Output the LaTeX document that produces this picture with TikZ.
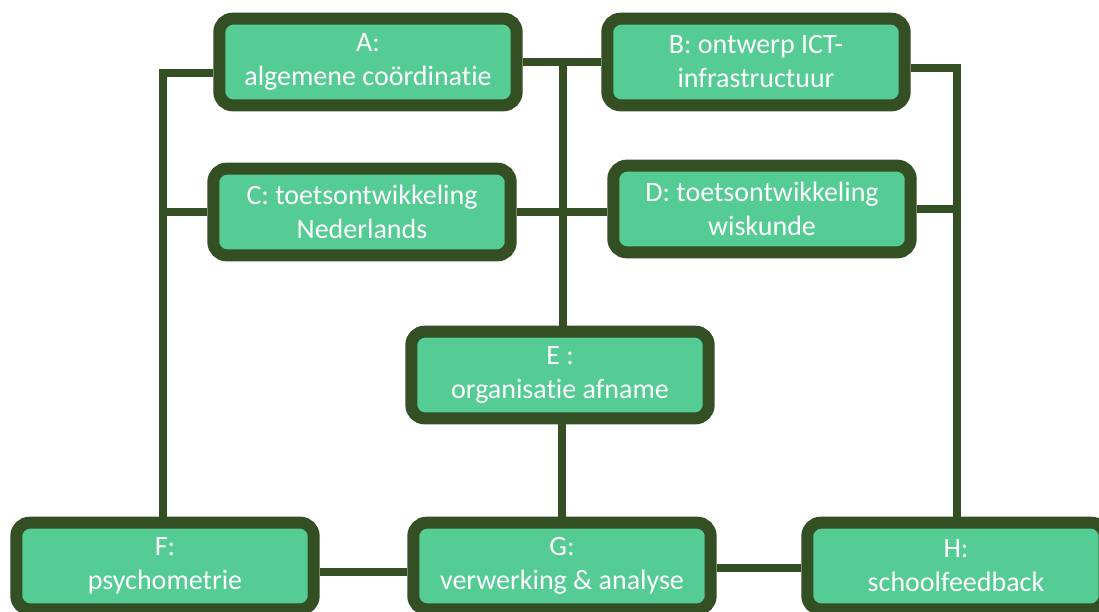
\documentclass[tikz,border=0pt]{standalone}
\usepackage{fontspec}
\setmainfont{Carlito}[Ligatures=NoCommon]
\usetikzlibrary{positioning,calc}
\definecolor{boxgreen}{RGB}{84,204,148}
\definecolor{darkgreen}{RGB}{51,79,35}

\begin{document}
\begin{tikzpicture}[x=0.75pt, y=-0.75pt,
    unit/.style={draw=darkgreen, line width=9pt, fill=boxgreen, rounded corners=10pt, minimum width=223pt, minimum height=65pt, align=center, text=white, font=\fontsize{21}{25.5}\selectfont},
    link/.style={draw=darkgreen, line width=6pt}
]
\clip (0,0) rectangle (1099,611);
\useasboundingbox (0,0) rectangle (1099,611);

% Top rows
\node[unit] (A) at (368,62) {A:\\algemene coördinatie};
\node[unit] (B) at (756,62) {B: ontwerp ICT-\\infrastructuur};
\node[unit] (C) at (362,212) {C: toetsontwikkeling\\Nederlands};
\node[unit] (D) at (762,209) {D: toetsontwikkeling\\wiskunde};
\node[unit] (E) at (560,375) {E :\\organisatie afname};

% Bottom row
\node[unit] (F) at (165,566) {F:\\psychometrie};
\node[unit] (G) at (562,566) {G:\\verwerking \& analyse};
\node[unit] (H) at (956,566) {H:\\schoolfeedback};

% Trunk corners
\coordinate (tl) at (163,73);
\coordinate (tm) at (563,65);
\coordinate (tr) at (957,68);

% Connectors
\draw[link] (A.west |- tl) -- (tl) -- (tl |- F.north);
\draw[link] (C.west) -- (C.west -| tl);
\draw[link] (A.east) -- (B.west);
\draw[link] (tm) -- (tm |- E.north);
\draw[link] (C.east) -- (C.east -| D.west);
\draw[link] (B.east |- tr) -- (tr) -- (tr |- H.north);
\draw[link] (D.east) -- (D.east -| tr);
\draw[link] (G.north |- E.south) -- (G.north);
\draw[link] ([yshift=-4.5pt]F.east) -- ([yshift=-4.5pt]F.east -| G.west);
\draw[link] ([yshift=-1.5pt]G.east) -- ([yshift=-1.5pt]G.east -| H.west);
\end{tikzpicture}
\end{document}
